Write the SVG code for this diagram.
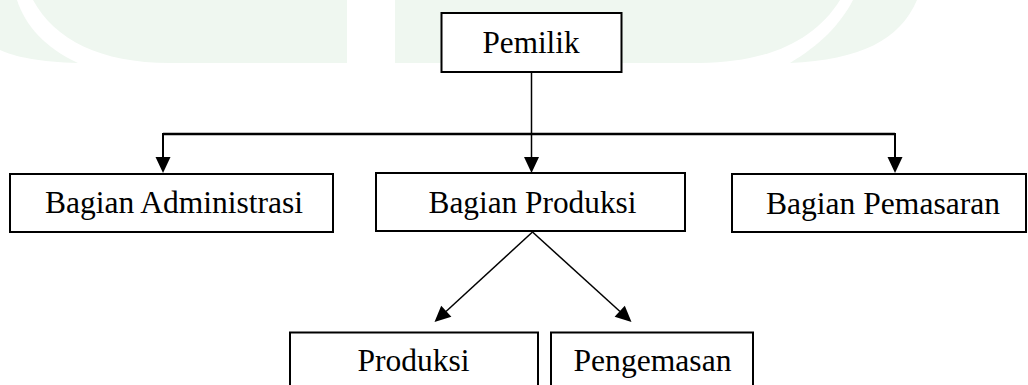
<svg xmlns="http://www.w3.org/2000/svg" width="1028" height="385" viewBox="0 0 1028 385">
<style>
.box{fill:#fff;stroke:#000;stroke-width:2}
.lbl{font-family:"Liberation Serif","Times New Roman",serif;font-size:31.5px;fill:#000;text-anchor:middle}
.wm{fill:#eff7f0;stroke:none}
.ln{stroke:#000;fill:none}
.ah{fill:#000;stroke:none}
</style>
<rect width="1028" height="385" fill="#fff"/>
<g id="watermark">
<path class="wm" d="M0,0 H17 C25,25 45,48 78,63 C40,62 15,57 0,50 Z"/>
<path class="wm" d="M33,0 H347 V63 H170 C100,63 55,40 33,0 Z"/>
<path class="wm" d="M395,0 H840 C815,40 770,62 700,63 H395 Z"/>
<path class="wm" d="M853,0 H917 C900,40 860,60 790,63 C820,45 840,25 853,0 Z"/>
</g>
<g id="connectors">
<line class="ln" x1="531.5" y1="72" x2="531.5" y2="160" stroke-width="1.5"/>
<line class="ln" x1="163" y1="134" x2="895" y2="134" stroke-width="2.5"/>
<line class="ln" x1="163" y1="133" x2="163" y2="160" stroke-width="2"/>
<line class="ln" x1="895" y1="133" x2="895" y2="160" stroke-width="2"/>
<polygon class="ah" points="155.5,157 170.5,157 163,173"/>
<polygon class="ah" points="524,157 539,157 531.5,173"/>
<polygon class="ah" points="887.5,157 902.5,157 895,173"/>
<line class="ln" x1="532.5" y1="232" x2="446" y2="311.5" stroke-width="1.5"/>
<line class="ln" x1="532.5" y1="232" x2="620" y2="311.5" stroke-width="1.5"/>
<polygon class="ah" points="434.5,322 451.4,316.7 441.2,305.7"/>
<polygon class="ah" points="631.5,322 614.6,316.7 624.8,305.7"/>
</g>
<g id="pemilik">
<rect class="box" x="441.5" y="13" width="180" height="59"/>
<text class="lbl" x="531" y="53" textLength="97" lengthAdjust="spacingAndGlyphs">Pemilik</text>
</g>
<g id="bagian-administrasi">
<rect class="box" x="10" y="174" width="323" height="58"/>
<text class="lbl" x="174" y="212.5" textLength="258" lengthAdjust="spacingAndGlyphs">Bagian Administrasi</text>
</g>
<g id="bagian-produksi">
<rect class="box" x="376" y="173" width="309" height="58"/>
<text class="lbl" x="532.5" y="213" textLength="208" lengthAdjust="spacingAndGlyphs">Bagian Produksi</text>
</g>
<g id="bagian-pemasaran">
<rect class="box" x="732" y="174" width="294" height="58"/>
<text class="lbl" x="883" y="214" textLength="234" lengthAdjust="spacingAndGlyphs">Bagian Pemasaran</text>
</g>
<g id="produksi">
<rect class="box" x="290" y="332.5" width="248" height="60"/>
<text class="lbl" x="413.5" y="370.5" textLength="112" lengthAdjust="spacingAndGlyphs">Produksi</text>
</g>
<g id="pengemasan">
<rect class="box" x="551" y="332.5" width="202" height="60"/>
<text class="lbl" x="652.5" y="370.5" textLength="158" lengthAdjust="spacingAndGlyphs">Pengemasan</text>
</g>
</svg>
